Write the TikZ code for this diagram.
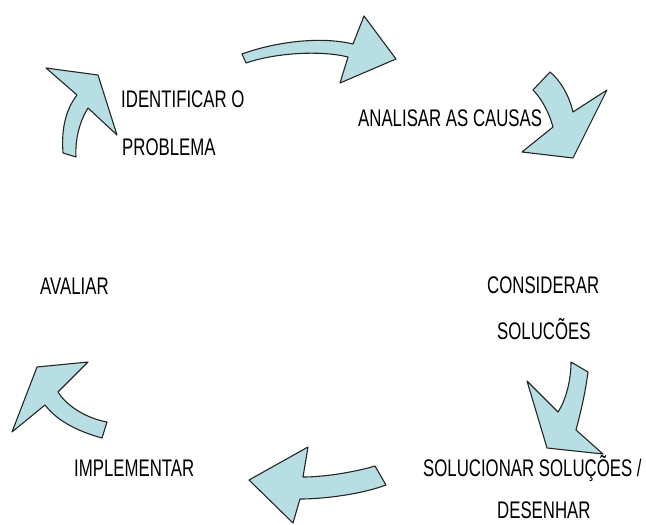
\documentclass[tikz,border=0pt]{standalone}
\usepackage{fontspec}
\newfontfamily\lblfont[FakeStretch=0.7]{Liberation Sans}
\definecolor{arrowfill}{RGB}{182,222,227}
\tikzset{
  lbl/.style={anchor=base west, inner sep=0pt, font=\lblfont\fontsize{24}{24}\selectfont, text=black},
  bigarrow/.style={fill=arrowfill, draw=black!85, line width=1.1pt, line join=round}
}
\begin{document}
\begin{tikzpicture}[x=1pt,y=-1pt]
\useasboundingbox (0,0) rectangle (646,525);
\fill[white] (0,0) rectangle (646,525);

% arrow 1 (top-left, pointing up-right)
\draw[bigarrow] (63,153) .. controls (61,126) and (67,108) .. (77,95)
  -- (46,68) -- (98,75) -- (117,135) -- (88,108)
  .. controls (80,121) and (75,138) .. (76,157) -- cycle;

% arrow 2 (top, pointing right)
\draw[bigarrow] (242,54) .. controls (275,42) and (320,36) .. (353,44)
  -- (364,16) -- (396,59) -- (340,83) -- (348,57)
  .. controls (320,50) and (275,53) .. (246,63) -- cycle;

% arrow 3 (top-right, pointing down)
\draw[bigarrow] (550,72) .. controls (560,80) and (569,95) .. (573,112)
  -- (607,90) -- (573,158) -- (522,152) -- (553,127)
  .. controls (549,112) and (541,98) .. (533,90) -- cycle;

% arrow 4 (right, pointing down)
\draw[bigarrow] (571,362) -- (588,372)
  .. controls (585,395) and (580,415) .. (576,430)
  -- (603,454) -- (547,448) -- (527,381) -- (558,412)
  .. controls (566,400) and (571,380) .. cycle;

% arrow 5 (bottom, pointing left)
\draw[bigarrow] (375,466) -- (386,485)
  .. controls (362,494) and (325,499) .. (300,499)
  -- (293,523) -- (249,480) -- (308,447) -- (303,477)
  .. controls (325,477) and (355,472) .. cycle;

% arrow 6 (left, pointing up-left)
\draw[bigarrow] (107,422) -- (102,438)
  .. controls (80,432) and (58,422) .. (45,405)
  -- (12,432) -- (37,367) -- (88,362) -- (58,392)
  .. controls (66,405) and (85,418) .. cycle;

% labels
\node[lbl] (t1a) at (121,107.5) {IDENTIFICAR O};
\node[lbl] (t1b) at (122,155) {PROBLEMA};
\node[lbl] (t2) at (358,126.5) {ANALISAR AS CAUSAS};
\node[lbl] (t3a) at (487,293) {CONSIDERAR};
\node[lbl] (t3b) at (497,339) {SOLUCÕES};
\node[lbl] (t4a) at (423,476.5) {SOLUCIONAR SOLUÇÕES /};
\node[lbl] (t4b) at (497,518) {DESENHAR};
\node[lbl] (t5) at (74,476.5) {IMPLEMENTAR};
\node[lbl] (t6) at (40,294) {AVALIAR};
\end{tikzpicture}
\end{document}
